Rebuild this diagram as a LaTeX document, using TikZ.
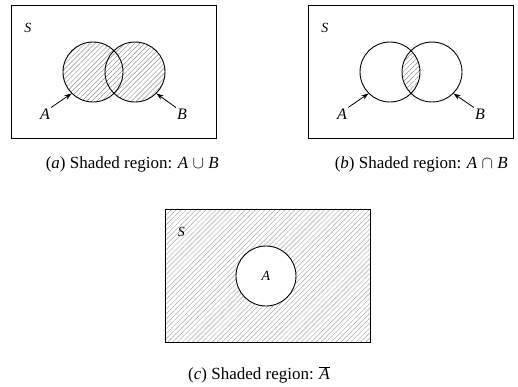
\documentclass[tikz,border=0pt]{standalone}
\usepackage{fontspec}
\setmainfont{Liberation Serif}
\usetikzlibrary{arrows.meta,positioning,patterns.meta,backgrounds}
\tikzset{
  setbox/.style={
    rectangle, draw=black, line width=0.9pt,
    minimum width=205pt, minimum height=133pt,
    inner sep=0pt
  },
  setcircle/.style={
    circle, draw=black, line width=0.9pt,
    minimum size=60pt, inner sep=0pt,
    font=\fontsize{14}{16}\selectfont\itshape
  },
  hatch/.style={
    pattern={Lines[angle=45, distance=3.5pt, line width=0.45pt]},
    pattern color=black!#1
  },
  hatch/.default=45,
  pointer/.style={
    -{Stealth[length=7pt, width=5pt]}, line width=0.8pt
  },
  setlabel/.style={
    font=\fontsize{16}{18}\selectfont\itshape, inner sep=1pt
  },
  univlabel/.style={
    font=\fontsize{14}{16}\selectfont\itshape, inner sep=0pt
  },
  capnode/.style={
    font=\fontsize{17}{19}\selectfont, inner sep=0pt, anchor=east
  },
}

\begin{document}
\begin{tikzpicture}[x=1pt, y=-1pt]
    \useasboundingbox (0,0) rectangle (518,386);

    % (a) union
    \node[setbox] (Sa) at (114,72) {};
    \node[univlabel, below right=18pt and 13pt of Sa.north west] (sa) {S};
    \node[setcircle] (Aa) at (93,72) {};
    \node[setcircle] (Ba) at (135,72) {};
    \begin{scope}[on background layer]
      \fill[hatch] (Aa.center) circle[radius=30pt] (Ba.center) circle[radius=30pt];
    \end{scope}
    \node[setlabel] (la) at (45,114) {A};
    \node[setlabel] (lb) at (182,114) {B};
    \draw[pointer] (la.north east) -- (Aa.-135);
    \draw[pointer] (lb.north west) -- (Ba.-45);
    \node[capnode] (capa) at (219,164) {(\textit{a}) Shaded region: \textit{A} $\cup$ \textit{B}};

    % (b) intersection
    \node[setbox] (Sb) at (411,72) {};
    \node[univlabel, below right=18pt and 13pt of Sb.north west] (sb) {S};
    \node[setcircle] (Ab) at (390,72) {};
    \node[setcircle] (Bb) at (432,72) {};
    \begin{scope}[on background layer]
      \begin{scope}
        \clip (Ab.center) circle[radius=30pt];
        \fill[hatch] (Bb.center) circle[radius=30pt];
      \end{scope}
    \end{scope}
    \node[setlabel] (lc) at (342,114) {A};
    \node[setlabel] (ld) at (480,114) {B};
    \draw[pointer] (lc.north east) -- (Ab.-135);
    \draw[pointer] (ld.north west) -- (Bb.-45);
    \node[capnode] (capb) at (508,164) {(\textit{b}) Shaded region: \textit{A} $\cap$ \textit{B}};

    % (c) complement
    \node[setbox] (Sc) at (267.5,275.5) {};
    \node[univlabel, below right=18pt and 13pt of Sc.north west] (sc) {S};
    \node[setcircle] (Ac) at (266,276) {A};
    \begin{scope}[on background layer]
      \fill[hatch=35, even odd rule] (Sc.north west) rectangle (Sc.south east)
        (Ac.center) circle[radius=30pt];
    \end{scope}
    \node[capnode] (capc) at (330,375) {(\textit{c}) Shaded region: $\overline{\textit{A}}$};
\end{tikzpicture}
\end{document}
